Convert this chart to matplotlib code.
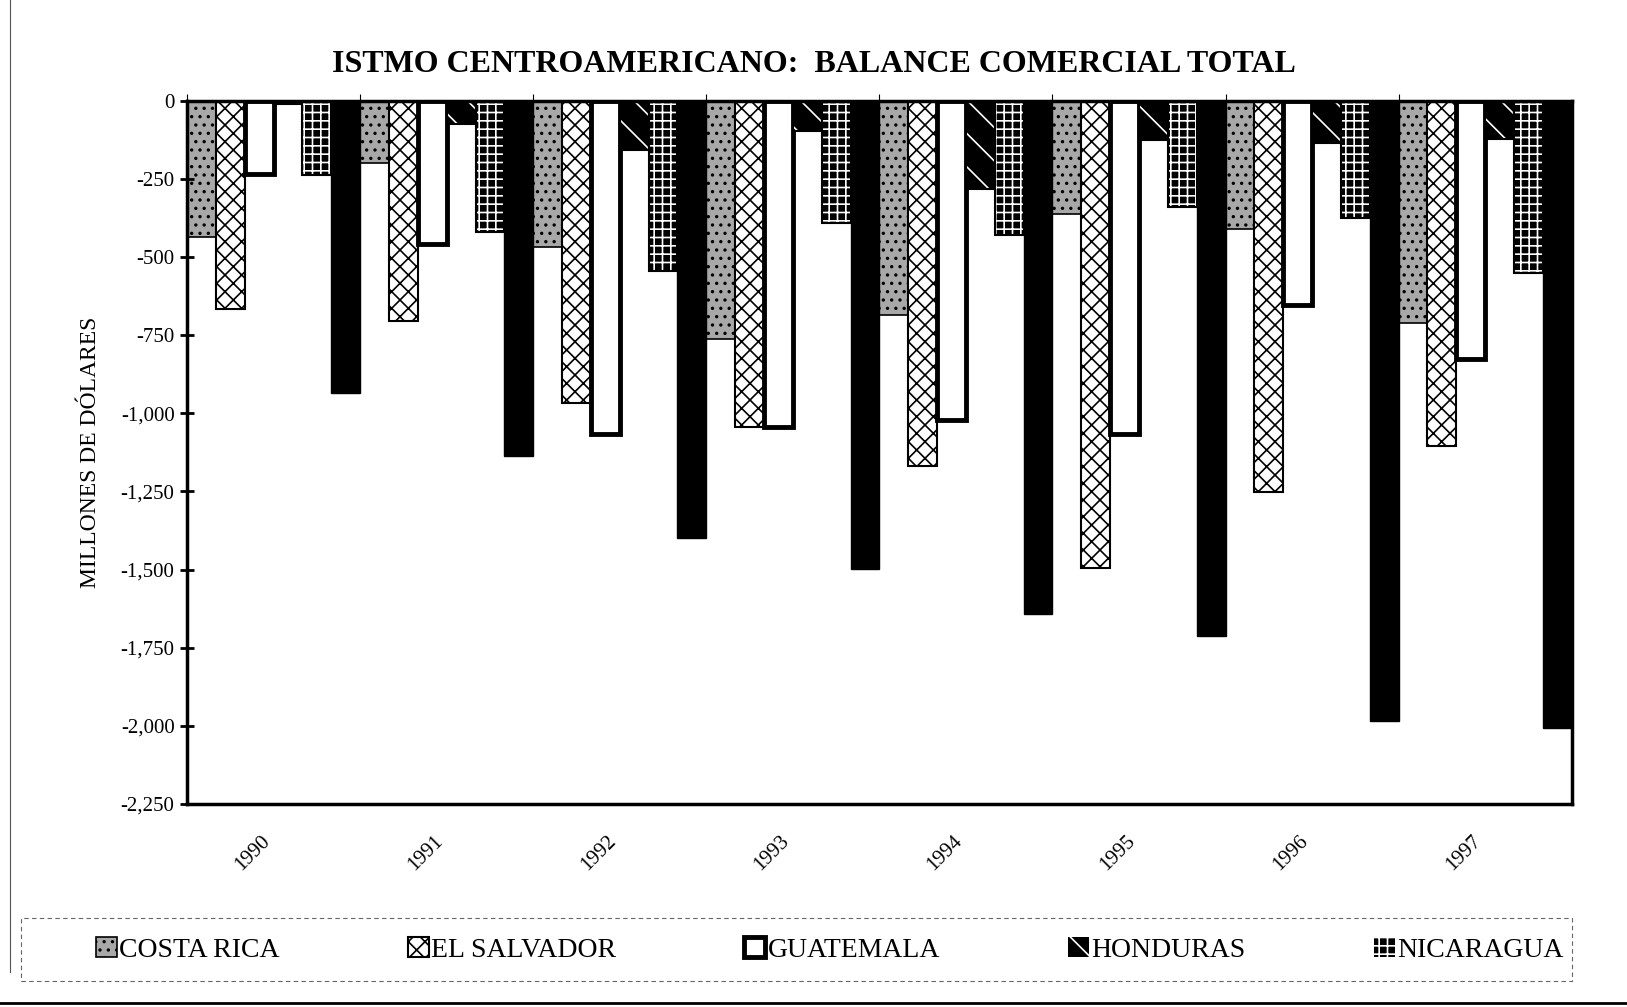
import matplotlib.pyplot as plt
from matplotlib.lines import Line2D
from matplotlib.patches import Rectangle
from matplotlib.ticker import FuncFormatter
import numpy as np

plt.rcParams['font.family'] = ['Liberation Serif', 'DejaVu Serif']
plt.rcParams['hatch.linewidth'] = 1.2

# balance comercial, millones de dolares
years = ["1990", "1991", "1992", "1993", "1994", "1995", "1996", "1997"]
costa_rica = [-437, -199, -469, -762, -685, -362, -412, -710]
el_salvador = [-666, -704, -968, -1043, -1170, -1495, -1252, -1105]
guatemala = [-233, -458, -1066, -1045, -1020, -1066, -655, -826]
honduras = [-10, -73, -158, -97, -283, -127, -135, -121]
nicaragua = [-237, -421, -546, -392, -431, -340, -376, -550]
sixth = [-935, -1136, -1399, -1497, -1642, -1712, -1984, -2006]
labels = ["COSTA RICA", "EL SALVADOR", "GUATEMALA", "HONDURAS", "NICARAGUA"]

fig = plt.figure(figsize=(16.27, 10.07), dpi=100)
ax = fig.add_axes([0.115, 0.2016, 0.851, 0.6984])

n = 6
w = 1.0 / n
x = np.arange(len(years))
pos = [x - 0.5 + (j + 0.5) * w for j in range(n)]

h_cr = ax.bar(pos[0], costa_rica, w, color='#a8a8a8', edgecolor='black',
              hatch='..', linewidth=1.2)
h_es = ax.bar(pos[1], el_salvador, w, color='white', edgecolor='black',
              hatch='xx', linewidth=1.5)
h_gt = ax.bar(pos[2], guatemala, w, color='white', edgecolor='black',
              linewidth=3.5)
# white pattern on black: hatch layer first, black outline on top
h_hn = ax.bar(pos[3], honduras, w, color='black', edgecolor='white',
              hatch='\\', linewidth=0)
ax.bar(pos[3], honduras, w, fill=False, edgecolor='black', linewidth=1.5)
h_ni = ax.bar(pos[4], nicaragua, w, color='black', edgecolor='white',
              hatch='++', linewidth=0)
ax.bar(pos[4], nicaragua, w, fill=False, edgecolor='black', linewidth=1.5)
ax.bar(pos[5], sixth, w, color='black', edgecolor='black', linewidth=1)

ax.set_xlim(-0.5, len(years) - 0.5)
ax.set_ylim(-2250, 0)
ax.set_yticks(np.arange(-2250, 1, 250))
ax.yaxis.set_major_formatter(FuncFormatter(lambda v, p: f"{int(v):,}"))
ax.tick_params(axis='y', direction='inout', length=10, width=2, labelsize=15, pad=4)

ax.set_xticks(x)
ax.set_xticklabels(years, rotation=45, ha='right', va='top', fontsize=15)
ax.tick_params(axis='x', which='major', length=0, pad=20)
ax.set_xticks(np.arange(len(years)) - 0.5, minor=True)
ax.tick_params(axis='x', which='minor', top=True, bottom=False,
               direction='out', length=5, width=0.8)

for s in ax.spines.values():
    s.set_linewidth(2.5)
    s.set_color('black')

ax.set_ylabel("MILLONES DE DÓLARES", fontsize=17, labelpad=14)

fig.text(0.5, 0.936, "ISTMO CENTROAMERICANO:  BALANCE COMERCIAL TOTAL",
         ha='center', va='center', fontsize=23, fontweight='bold')

leg = fig.legend([h_cr, h_es, h_gt, h_hn, h_ni], labels, loc='center', ncol=5,
                 bbox_to_anchor=(0.51, 0.057), bbox_transform=fig.transFigure,
                 frameon=False, fontsize=20, handlelength=0.75, handleheight=0.75,
                 handletextpad=0.1, columnspacing=4.6)
# dashed legend box, drawn separately so it can be wider than its contents
fig.add_artist(Rectangle((0.013, 0.026), 0.953, 0.062, transform=fig.transFigure,
                         fill=False, edgecolor='#666666', lw=0.8,
                         linestyle=(0, (4, 3))))

# page border lines from the scan
fig.add_artist(Line2D([0.006, 0.006], [0.035, 1.0], transform=fig.transFigure,
                      color='#555555', lw=0.8))
fig.add_artist(Line2D([0.0, 1.0], [0.0035, 0.0035], transform=fig.transFigure,
                      color='black', lw=2))

fig.savefig("out.png", dpi=100)
